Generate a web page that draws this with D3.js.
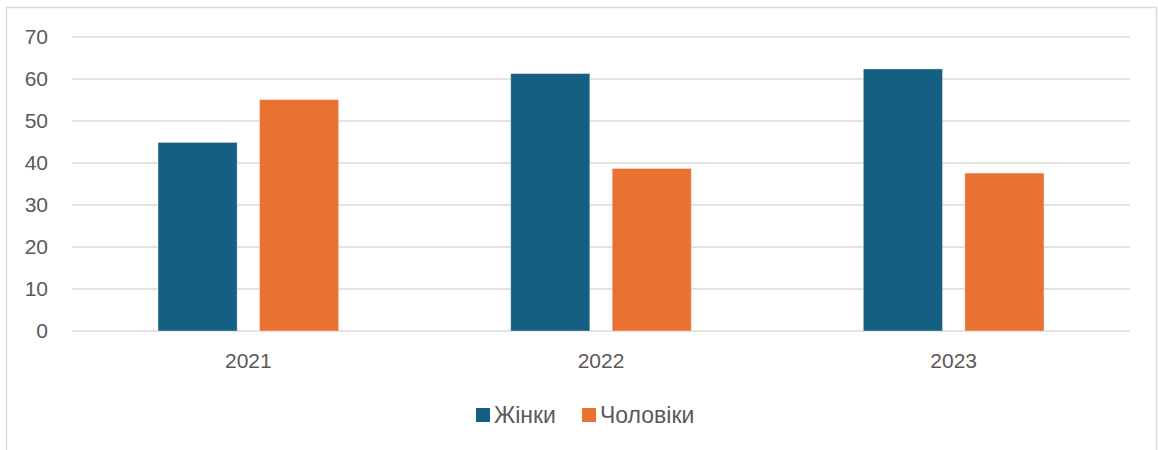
<!DOCTYPE html>
<html lang="uk">
<head>
<meta charset="UTF-8" />
<script src="https://d3js.org/d3.v7.min.js"></script>
<style>
  body { margin: 0; background: #fff; }
  text { font-family: "Liberation Sans", Arial, sans-serif; fill: #595959; }
</style>
</head>
<body>
<script>
// data
var years = ["2021", "2022", "2023"];
var seriesNames = ["Жінки", "Чоловіки"];
var women = [44.9, 61.3, 62.4];
var men = [55.1, 38.7, 37.6];
var yTicks = [0, 10, 20, 30, 40, 50, 60, 70];
var colors = ["#156082", "#E97132"];

var width = 1158, height = 450;
var margin = { left: 72, right: 28, top: 37, bottom: 119 };

var svg = d3.select("body").append("svg")
    .attr("width", width)
    .attr("height", height);

// chart border
svg.append("rect")
    .attr("x", 6.5).attr("y", 7.5)
    .attr("width", 1150).attr("height", 460)
    .attr("fill", "none")
    .attr("stroke", "#d9d9d9")
    .attr("stroke-width", 1.5);

var x = d3.scaleBand().domain(years)
    .range([margin.left, width - margin.right])
    .paddingInner(0).paddingOuter(0);

var x1 = d3.scaleBand().domain(seriesNames)
    .range([86, x.bandwidth() - 86])
    .paddingInner(0.22);

var y = d3.scaleLinear().domain([0, 70])
    .range([height - margin.bottom, margin.top]);

// gridlines
svg.append("g").selectAll("line").data(yTicks)
    .enter().append("line")
    .attr("x1", margin.left).attr("x2", width - margin.right)
    .attr("y1", d => y(d)).attr("y2", d => y(d))
    .attr("stroke", "#d9d9d9")
    .attr("stroke-width", 1.5);

// y labels
svg.append("g").selectAll("text").data(yTicks)
    .enter().append("text")
    .attr("x", 48).attr("y", d => y(d))
    .attr("dy", "0.35em")
    .attr("text-anchor", "end")
    .style("font-size", "21px")
    .text(d => d);

// bars
var rows = years.map((yr, i) => ({ year: yr, values: [women[i], men[i]] }));

var groups = svg.append("g").selectAll("g").data(rows)
    .enter().append("g")
    .attr("transform", d => "translate(" + x(d.year) + ",0)");

groups.selectAll("rect")
    .data(d => d.values.map((v, j) => ({ name: seriesNames[j], value: v, j: j })))
    .enter().append("rect")
    .attr("x", d => x1(d.name))
    .attr("width", x1.bandwidth())
    .attr("y", d => y(d.value))
    .attr("height", d => y(0) - y(d.value))
    .attr("fill", d => colors[d.j])
    .attr("stroke", "rgba(255,255,255,0.4)")
    .attr("stroke-width", 1);

// x labels
svg.append("g").selectAll("text").data(years)
    .enter().append("text")
    .attr("x", d => x(d) + x.bandwidth() / 2)
    .attr("y", 368)
    .attr("text-anchor", "middle")
    .style("font-size", "21px")
    .text(d => d);

// legend
var legendItems = [
    { name: seriesNames[0], color: colors[0], x: 476 },
    { name: seriesNames[1], color: colors[1], x: 582 }
];
var legend = svg.append("g").selectAll("g").data(legendItems)
    .enter().append("g")
    .attr("transform", d => "translate(" + d.x + ",408)");

legend.append("rect")
    .attr("width", 14).attr("height", 14)
    .attr("fill", d => d.color);

legend.append("text")
    .attr("x", 18).attr("y", 15)
    .style("font-size", "23px")
    .text(d => d.name);
</script>
</body>
</html>
